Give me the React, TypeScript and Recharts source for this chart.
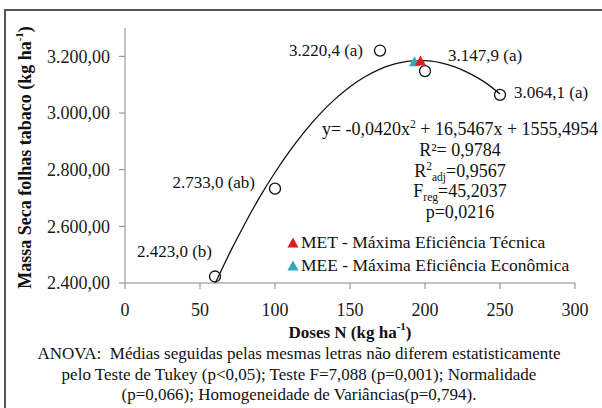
import React from "react"
import {
  ComposedChart,
  Line,
  Scatter,
  XAxis,
  YAxis,
  Legend,
  Label,
} from "recharts"

const serif = '"Liberation Serif", "Times New Roman", serif'

// médias de massa seca por dose de N
const doses = [60, 100, 170, 200, 250]
const massaSeca = [2423.0, 2733.0, 3220.4, 3147.9, 3064.1]
const letrasTukey = ["b", "ab", "a", "a", "a"]

// curva de regressão ajustada
const curvaDoses = [60, 70, 80, 90, 100, 110, 120, 130, 140, 150, 160, 170, 180, 190, 200, 210, 220, 230, 240, 250]
const curvaMassa = [2397, 2508, 2610, 2705, 2790, 2867, 2936, 2997, 3049, 3093, 3128, 3155, 3173, 3183, 3185, 3178, 3163, 3139, 3108, 3067]

// máxima eficiência técnica e econômica
const metDose = [197]
const metMassa = [3185]
const meeDose = [193]
const meeMassa = [3183]

const xTicks = [0, 50, 100, 150, 200, 250, 300]
const yTicks = [2400, 2600, 2800, 3000, 3200]

const pontos = doses.map((x, i) => ({ x, y: massaSeca[i], letra: letrasTukey[i] }))
const curva = curvaDoses.map((x, i) => ({ x, y: curvaMassa[i] }))
const met = metDose.map((x, i) => ({ x, y: metMassa[i] }))
const mee = meeDose.map((x, i) => ({ x, y: meeMassa[i] }))

// onde fica o rótulo de cada média em relação ao círculo
const rotulos: { anchor: "start" | "end"; dx: number; dy: number }[] = [
  { anchor: "end", dx: -3, dy: -25 },
  { anchor: "end", dx: -20, dy: -6 },
  { anchor: "end", dx: -17, dy: 0 },
  { anchor: "start", dx: 23, dy: -16 },
  { anchor: "start", dx: 14, dy: -2 },
]

const legendaOrdem = ["MET - Máxima Eficiência Técnica", "MEE - Máxima Eficiência Econômica"]

// 3220.4 -> "3.220,4"
function fmt(v: number, casas: number) {
  const [int, dec] = v.toFixed(casas).split(".")
  const milhar = int.replace(/\B(?=(\d{3})+(?!\d))/g, ".")
  return dec ? `${milhar},${dec}` : milhar
}

const Circulo = (props: any) => {
  const { cx, cy, payload } = props
  const i = doses.indexOf(payload.x)
  const r = rotulos[i]
  return (
    <g>
      <circle cx={cx} cy={cy} r={5.5} fill="none" stroke="#111" strokeWidth={1.3} />
      <text
        x={cx + r.dx}
        y={cy + r.dy}
        textAnchor={r.anchor}
        dominantBaseline="central"
        fontFamily={serif}
        fontSize={17}
        fill="#111"
      >
        {`${fmt(payload.y, 1)} (${payload.letra})`}
      </text>
    </g>
  )
}

const triangulo = (cor: string) => (props: any) => {
  const { cx, cy } = props
  return (
    <polygon
      points={`${cx - 5.5},${cy + 5} ${cx + 5.5},${cy + 5} ${cx},${cy - 5}`}
      fill={cor}
    />
  )
}

const TituloY = (props: any) => {
  const vb = props.viewBox || { x: 0, y: 28, width: 125, height: 255 }
  const x = vb.x + 25
  const y = vb.y + vb.height / 2 + 2
  return (
    <text
      x={x}
      y={y}
      transform={`rotate(-90 ${x} ${y})`}
      textAnchor="middle"
      dominantBaseline="central"
      fontFamily={serif}
      fontWeight="bold"
      fontSize={18}
      fill="#111"
    >
      Massa Seca folhas tabaco (kg ha
      <tspan dy={-6} fontSize={11}>-1</tspan>
      <tspan dy={6}>)</tspan>
    </text>
  )
}

const TituloX = (props: any) => {
  const vb = props.viewBox || { x: 125, y: 283, width: 450, height: 30 }
  const x = vb.x + vb.width / 2
  const y = vb.y + 49
  return (
    <text
      x={x}
      y={y}
      textAnchor="middle"
      dominantBaseline="central"
      fontFamily={serif}
      fontWeight="bold"
      fontSize={17}
      fill="#111"
    >
      Doses N (kg ha
      <tspan dy={-6} fontSize={11}>-1</tspan>
      <tspan dy={6}>)</tspan>
    </text>
  )
}

const Legenda = (props: any) => {
  const itens = [...(props.payload || [])]
    .filter((p: any) => legendaOrdem.includes(p.value))
    .sort((a: any, b: any) => legendaOrdem.indexOf(a.value) - legendaOrdem.indexOf(b.value))
  return (
    <div style={{ fontFamily: serif, fontSize: 17.5, color: "#111" }}>
      {itens.map((p: any) => (
        <div key={p.value} style={{ display: "flex", alignItems: "center", height: 23, whiteSpace: "nowrap" }}>
          <svg width={12} height={11} style={{ marginRight: 2 }}>
            <polygon points="0.5,10.5 11.5,10.5 6,0.5" fill={p.color} />
          </svg>
          <span>{p.value}</span>
        </div>
      ))}
    </div>
  )
}

const supStyle: React.CSSProperties = { fontSize: 11.5, lineHeight: 0, verticalAlign: "baseline", position: "relative", top: -7 }
const subStyle: React.CSSProperties = { fontSize: 11.5, lineHeight: 0, verticalAlign: "baseline", position: "relative", top: 4 }

const tickStyle = { fill: "#1a1a1a", fontSize: 18, fontFamily: serif }

export default function App() {
  return (
    <div style={{ position: "relative", width: 602, height: 408, overflow: "hidden", background: "#fff", fontFamily: serif }}>
      <style>{"body{margin:0}"}</style>
      <div
        style={{
          position: "absolute",
          left: 4,
          top: 9,
          width: 640,
          height: 440,
          borderTop: "2px solid #555",
          borderLeft: "2px solid #555",
        }}
      />
      <ComposedChart
        width={602}
        height={408}
        margin={{ top: 28, right: 27, bottom: 95, left: 0 }}
        style={{ position: "absolute", left: 0, top: 0, fontFamily: serif }}
      >
        <XAxis
          type="number"
          dataKey="x"
          domain={[0, 300]}
          ticks={xTicks}
          height={30}
          stroke="#868686"
          tickSize={6}
          tickMargin={14}
          tick={tickStyle}
        >
          <Label content={<TituloX />} />
        </XAxis>
        <YAxis
          type="number"
          dataKey="y"
          domain={[2400, 3300]}
          allowDataOverflow
          ticks={yTicks}
          width={125}
          stroke="#868686"
          tickSize={6}
          tickMargin={9}
          tickFormatter={(v) => fmt(v, 2)}
          tick={tickStyle}
        >
          <Label content={<TituloY />} />
        </YAxis>
        <Line
          data={curva}
          dataKey="y"
          type="monotone"
          stroke="#111"
          strokeWidth={1.3}
          dot={false}
          legendType="none"
          isAnimationActive={false}
        />
        <Scatter
          data={pontos}
          dataKey="y"
          shape={<Circulo />}
          legendType="none"
          isAnimationActive={false}
        />
        <Scatter
          name="MEE - Máxima Eficiência Econômica"
          data={mee}
          dataKey="y"
          fill="#2fa8b8"
          shape={triangulo("#2fa8b8")}
          isAnimationActive={false}
        />
        <Scatter
          name="MET - Máxima Eficiência Técnica"
          data={met}
          dataKey="y"
          fill="#e3191c"
          shape={triangulo("#e3191c")}
          isAnimationActive={false}
        />
        {/* vertical + center: a legenda não tira espaço da área do gráfico */}
        <Legend
          layout="vertical"
          align="center"
          verticalAlign="middle"
          content={<Legenda />}
          wrapperStyle={{ left: 287, top: 231, width: 310, bottom: "auto", right: "auto" }}
        />
      </ComposedChart>

      {/* equação e estatísticas da regressão */}
      <div
        style={{
          position: "absolute",
          left: 310,
          top: 119,
          width: 300,
          textAlign: "center",
          fontFamily: serif,
          fontSize: 18,
          lineHeight: "20.75px",
          color: "#111",
          whiteSpace: "nowrap",
        }}
      >
        <div>
          y= -0,0420x<span style={supStyle}>2</span> + 16,5467x + 1555,4954
        </div>
        <div>R²= 0,9784</div>
        <div>
          R<span style={supStyle}>2</span>
          <span style={subStyle}>adj</span>=0,9567
        </div>
        <div>
          F<span style={subStyle}>reg</span>=45,2037
        </div>
        <div>p=0,0216</div>
      </div>

      {/* nota da ANOVA */}
      <div
        style={{
          position: "absolute",
          left: 0,
          top: 344,
          width: 598,
          textAlign: "center",
          fontFamily: serif,
          fontSize: 17,
          lineHeight: "20.5px",
          color: "#111",
        }}
      >
        <div>ANOVA:&nbsp; Médias seguidas pelas mesmas letras não diferem estatisticamente</div>
        <div>pelo Teste de Tukey (p&lt;0,05); Teste F=7,088 (p=0,001); Normalidade</div>
        <div>(p=0,066); Homogeneidade de Variâncias(p=0,794).</div>
      </div>
    </div>
  )
}
